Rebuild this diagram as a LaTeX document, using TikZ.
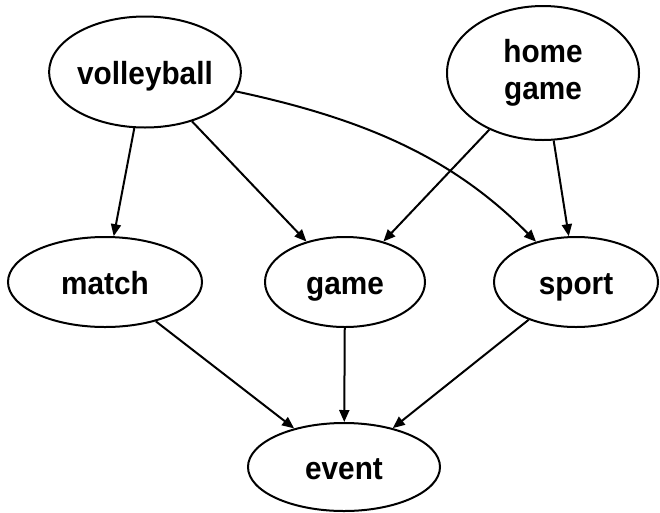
\documentclass[tikz,border=0pt]{standalone}
\usepackage{fontspec}
\setmainfont{Liberation Sans}
\newfontfamily\lblfont[FakeStretch=0.93]{Liberation Sans Bold}
\usetikzlibrary{shapes.geometric,arrows.meta}
\begin{document}
\begin{tikzpicture}[x=1pt,y=-1pt,
  ell/.style={draw, ellipse, line width=2pt, inner sep=0pt, align=center,
    font=\lblfont\fontsize{32}{37}\selectfont},
  one/.style={text height=24pt, text depth=0pt},
  arr/.style={line width=2pt, -{Triangle[length=12pt,width=10pt]}}]
\useasboundingbox (0,0) rectangle (660,512);
\node[ell, one, minimum width=190pt, minimum height=111pt] (vb) at (145,72) {volleyball};
\node[ell, minimum width=192pt, minimum height=134pt] (hg) at (543,73) {home\\game};
\node[ell, one, minimum width=194pt, minimum height=90pt] (ma) at (105,282) {match};
\node[ell, one, minimum width=160pt, minimum height=90pt] (ga) at (345,282) {game};
\node[ell, one, minimum width=164pt, minimum height=90pt] (sp) at (576,282) {sport};
\node[ell, one, minimum width=192pt, minimum height=88pt] (ev) at (344,467) {event};
\draw[arr] (vb) -- (ma);
\draw[arr] (vb) -- (ga);
\draw[arr] (vb) .. controls (370,120) and (455,160) .. (sp);
\draw[arr] (hg) -- (ga);
\draw[arr] (hg) -- (sp);
\draw[arr] (ma) -- (ev);
\draw[arr] (ga) -- (ev);
\draw[arr] (sp) -- (ev);
\end{tikzpicture}
\end{document}
